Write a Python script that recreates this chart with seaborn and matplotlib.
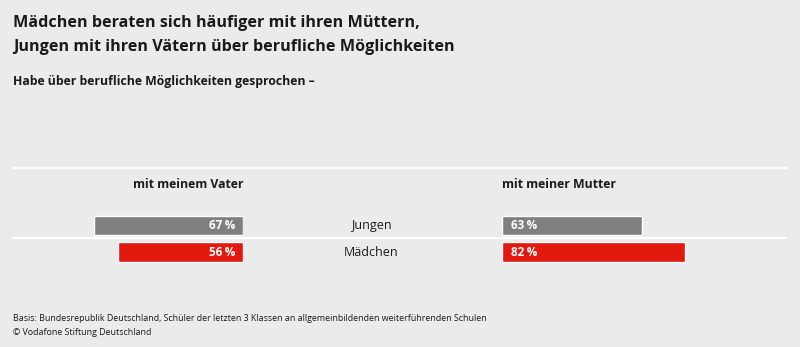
import matplotlib
matplotlib.use("Agg")
import matplotlib.pyplot as plt
from matplotlib.lines import Line2D
import seaborn as sns
import pandas as pd

# Data
groups = ["Jungen", "Mädchen"]
vater = [67, 56]
mutter = [63, 82]
col_headers = ["mit meinem Vater", "mit meiner Mutter"]
title_lines = ["Mädchen beraten sich häufiger mit ihren Müttern,",
               "Jungen mit ihren Vätern über berufliche Möglichkeiten"]
subtitle = "Habe über berufliche Möglichkeiten gesprochen –"
footnote_lines = ["Basis: Bundesrepublik Deutschland, Schüler der letzten 3 Klassen an allgemeinbildenden weiterführenden Schulen",
                  "© Vodafone Stiftung Deutschland"]

BG = "#ebebeb"
GREY = "#7f7f7f"
RED = "#e3180f"
TXT = "#1a1a1a"

sns.set_theme(style="white")
plt.rcParams["font.family"] = ["Open Sans", "DejaVu Sans"]

W, H = 800, 347
fig = plt.figure(figsize=(W / 100, H / 100), dpi=100, facecolor=BG)

def fx(px):
    return px / W

def fy(py):
    return 1 - py / H

df = pd.DataFrame({"group": groups, "vater": vater, "mutter": mutter})
palette = {"Jungen": GREY, "Mädchen": RED}

# bar rows: centre at 238.9 px, row pitch 26.6 px
row = 26.6
ax_h = 2 * row
ax_bottom = fy(238.9 + row)
px_per_unit = 2.225
span = 100 * px_per_unit

axL = fig.add_axes([fx(242.7 - span), ax_bottom, fx(span), ax_h / H])
axR = fig.add_axes([fx(502.3), ax_bottom, fx(span), ax_h / H])

for ax, col, side in [(axL, "vater", "L"), (axR, "mutter", "R")]:
    sns.barplot(data=df, x=col, y="group", hue="group", palette=palette,
                orient="h", width=0.73, ax=ax, legend=False, saturation=1)
    ax.set_xlim(0, 100)
    ax.set_ylim(1.5, -0.5)
    if side == "L":
        ax.invert_xaxis()
    ax.set_axis_off()
    ax.patch.set_alpha(0)
    for i, v in enumerate(df[col]):
        off = -5 if side == "L" else 6
        ax.annotate(f"{v}\u2009%", xy=(0, i), xytext=(off, 0), textcoords="offset points",
                    ha="right" if side == "L" else "left", va="center",
                    color="white", fontsize=8.5, fontweight="bold")

# Title and subtitle
for py, line in zip((27, 51), title_lines):
    fig.text(fx(13), fy(py), line, ha="left", va="baseline", fontsize=11.6,
             fontweight="bold", color=TXT)
fig.text(fx(13), fy(85), subtitle, ha="left", va="baseline", fontsize=8.85,
         fontweight="bold", color=TXT)

# Column headers
fig.text(fx(243), fy(184), col_headers[0], ha="right", va="center", fontsize=8.8,
         fontweight="bold", color=TXT)
fig.text(fx(502), fy(184), col_headers[1], ha="left", va="center", fontsize=8.8,
         fontweight="bold", color=TXT)

# Category labels in the middle
for i, g in enumerate(groups):
    fig.text(fx(371), fy(225.5 + i * row), g, ha="center", va="center",
             fontsize=9, color=TXT)

# White rules
for py in (168, 238):
    fig.add_artist(Line2D([fx(13), fx(786)], [fy(py), fy(py)], color="white", lw=1.6))

# Footnote
for py, line in zip((321, 335), footnote_lines):
    fig.text(fx(13), fy(py), line, ha="left", va="baseline", fontsize=6.4, color=TXT)

fig.savefig("out.png", dpi=100, facecolor=BG)
